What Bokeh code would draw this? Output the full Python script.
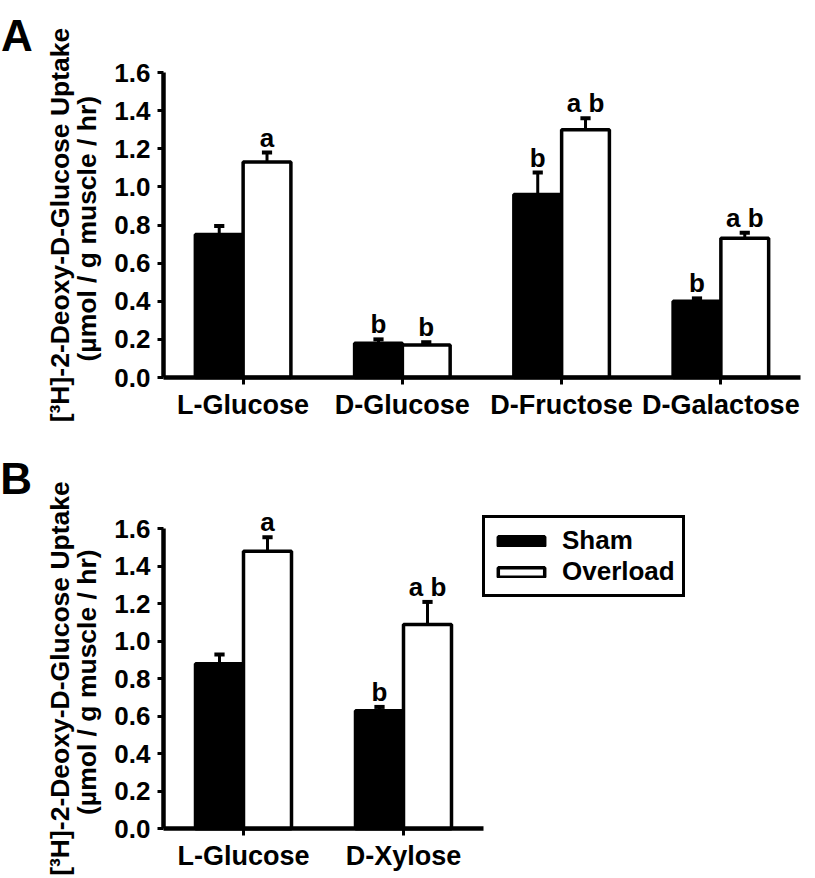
from bokeh.plotting import figure
from bokeh.models import (Range1d, FixedTicker, PrintfTickFormatter, Label, ColumnDataSource,
                          LinearAxis)
from bokeh.transform import dodge
from bokeh.layouts import column
from bokeh.embed import file_html
from bokeh.resources import INLINE
from bokeh.core.properties import value

FONT = "Liberation Sans"

# Panel A data
cats_a = ["L-Glucose", "D-Glucose", "D-Fructose", "D-Galactose"]
sham_a = [0.75, 0.18, 0.96, 0.40]
sham_err_a = [0.045, 0.02, 0.115, 0.015]
over_a = [1.13, 0.17, 1.30, 0.73]
over_err_a = [0.05, 0.015, 0.06, 0.03]
sham_let_a = ["", "b", "b", "b"]
over_let_a = ["a", "b", "a b", "a b"]

# Panel B data
cats_b = ["L-Glucose", "D-Xylose"]
sham_b = [0.88, 0.63]
sham_err_b = [0.05, 0.02]
over_b = [1.48, 1.09]
over_err_b = [0.075, 0.12]
sham_let_b = ["", "b"]
over_let_b = ["a", "a b"]

y_ticks = [0.0, 0.2, 0.4, 0.6, 0.8, 1.0, 1.2, 1.4, 1.6]
y_label = "[\u00b3H]-2-Deoxy-D-Glucose Uptake\n(\u00b5mol  / g muscle / hr)"

W = 815


def panel(cats, sham, sham_err, over, over_err, sham_let, over_let, letter,
          height, axis_x_px, px_per_cat, y0_px, px_per_unit, letter_xy, legend_loc=None):
    n = len(cats)
    x_start = -axis_x_px / px_per_cat
    x_end = (W - axis_x_px) / px_per_cat
    y_start = -(height - y0_px) / px_per_unit
    y_end = y0_px / px_per_unit
    p = figure(x_range=Range1d(x_start, x_end), y_range=Range1d(y_start, y_end),
               width=W, height=height,
               min_border_left=0, min_border_right=0, min_border_top=0, min_border_bottom=0,
               x_axis_type=None, y_axis_type=None,
               output_backend="svg", toolbar_location=None)
    src = ColumnDataSource(dict(
        xpos=[i + 0.5 for i in range(n)], sham=sham, over=over,
        sham_top=[v + e for v, e in zip(sham, sham_err)],
        over_top=[v + e for v, e in zip(over, over_err)],
        sham_let=sham_let, over_let=over_let))
    off = 0.15
    w = 0.30
    kw_s = dict(legend_label="Sham") if legend_loc else {}
    kw_o = dict(legend_label="Overload") if legend_loc else {}
    p.vbar(x=dodge("xpos", -off), top="sham", width=w, source=src,
           fill_color="black", line_color="black", line_width=3.5, **kw_s)
    p.vbar(x=dodge("xpos", off), top="over", width=w, source=src,
           fill_color="white", line_color="black", line_width=3.5, **kw_o)
    for o, base, top, let in [(-off, "sham", "sham_top", "sham_let"), (off, "over", "over_top", "over_let")]:
        p.segment(x0=dodge("xpos", o), x1=dodge("xpos", o),
                  y0=base, y1=top, source=src, line_color="black", line_width=3)
        p.segment(x0=dodge("xpos", o - 0.032), x1=dodge("xpos", o + 0.032),
                  y0=top, y1=top, source=src, line_color="black", line_width=4)
        p.text(x=dodge("xpos", o), y=top, text=let, source=src,
               text_align="center", text_baseline="alphabetic", y_offset=-15,
               text_font=value(FONT), text_font_size="26px", text_font_style="bold",
               text_color="black")
    p.xgrid.visible = False
    p.ygrid.visible = False
    p.outline_line_color = None
    p.background_fill_color = "white"
    p.border_fill_color = "white"

    ax = LinearAxis(fixed_location=0, bounds=(0, 1.6))
    ax.ticker = FixedTicker(ticks=y_ticks)
    ax.formatter = PrintfTickFormatter(format="%.1f")
    ax.axis_label = y_label
    ax.axis_label_text_font = FONT
    ax.axis_label_text_font_size = "26.5px"
    ax.axis_label_text_font_style = "bold"
    ax.axis_label_text_line_height = 0.92
    ax.axis_label_standoff = 9
    ax.major_label_text_font = FONT
    ax.major_label_text_font_size = "26px"
    ax.major_label_text_font_style = "bold"
    ax.major_label_standoff = 7
    ax.minor_tick_line_color = None
    ax.major_tick_in = 0
    ax.major_tick_out = 6
    ax.major_tick_line_width = 3
    ax.axis_line_width = 4.5
    ax.axis_line_color = "black"
    ax.major_tick_line_color = "black"
    ax.major_label_text_color = "black"
    ax.axis_label_text_color = "black"
    p.add_layout(ax, "left")

    xa = LinearAxis(fixed_location=0, bounds=(0, n))
    xa.ticker = FixedTicker(ticks=[i + 0.5 for i in range(n)])
    xa.major_label_overrides = {i + 0.5: c for i, c in enumerate(cats)}
    xa.minor_tick_line_color = None
    xa.major_label_text_font = FONT
    xa.major_label_text_font_size = "27px"
    xa.major_label_text_font_style = "bold"
    xa.major_label_text_color = "black"
    xa.major_label_standoff = 5
    xa.major_tick_in = 0
    xa.major_tick_out = 7
    xa.major_tick_line_width = 3
    xa.axis_line_width = 4.5
    xa.axis_line_color = "black"
    xa.major_tick_line_color = "black"
    p.add_layout(xa, "below")

    p.add_layout(Label(x=letter_xy[0], y=letter_xy[1], text=letter, text_font=FONT,
                       text_font_size="44px", text_font_style="bold", text_color="black",
                       text_baseline="alphabetic"))

    if legend_loc:
        lg = p.legend[0]
        lg.location = legend_loc
        lg.label_text_font = FONT
        lg.label_text_font_size = "26px"
        lg.label_text_font_style = "bold"
        lg.label_text_color = "black"
        lg.glyph_width = 58
        lg.glyph_height = 12
        lg.label_height = 24
        lg.label_standoff = 12
        lg.spacing = -2
        lg.padding = 7
        lg.margin = 0
        lg.border_line_color = "black"
        lg.border_line_alpha = 1
        lg.border_line_width = 3.5
        lg.background_fill_color = "white"
        lg.background_fill_alpha = 1
    return p


pa = panel(cats_a, sham_a, sham_err_a, over_a, over_err_a, sham_let_a, over_let_a, "A",
           438, 163, 159.25, 377, 190.625, (-1.02, 1.794))
pb = panel(cats_b, sham_b, sham_err_b, over_b, over_err_b, sham_let_b, over_let_b, "B",
           438, 163, 160, 390.3, 187.5, (-1.02, 1.868), legend_loc=(482, 279))

layout = column(pa, pb, spacing=0)
open("out.html", "w").write(file_html(layout, INLINE))
